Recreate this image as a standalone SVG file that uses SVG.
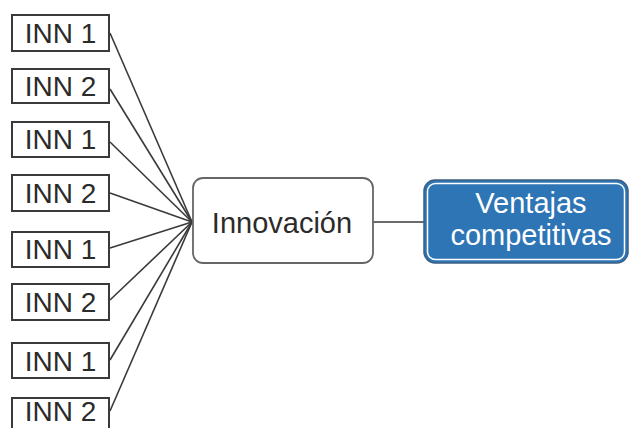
<svg xmlns="http://www.w3.org/2000/svg" width="629" height="428" viewBox="0 0 629 428">
<style>
.inn rect{fill:#fff;stroke:#3a3a3a;stroke-width:2}
.inn text{font-family:"Liberation Sans",Arial,sans-serif;font-size:28px;fill:#2b2b2b;text-anchor:middle}
.conn line{stroke:#3a3a3a;stroke-width:1.6}
</style>
<rect width="629" height="428" fill="#fff"/>
<g id="connectors" class="conn">
<line x1="110" y1="33" x2="192" y2="222"/>
<line x1="110" y1="89" x2="192" y2="222"/>
<line x1="110" y1="142" x2="192" y2="222"/>
<line x1="110" y1="193" x2="192" y2="222"/>
<line x1="110" y1="248" x2="192" y2="222"/>
<line x1="110" y1="300" x2="192" y2="222"/>
<line x1="110" y1="360" x2="192" y2="222"/>
<line x1="110" y1="411" x2="192" y2="222"/>
<line x1="373" y1="222" x2="424" y2="222"/>
</g>
<g id="inn1a" class="inn"><rect x="12" y="15" width="97" height="36"/><text x="60.5" y="43">INN 1</text></g>
<g id="inn2a" class="inn"><rect x="12" y="69" width="97" height="34"/><text x="60.5" y="96">INN 2</text></g>
<g id="inn1b" class="inn"><rect x="12" y="122" width="97" height="35"/><text x="60.5" y="149">INN 1</text></g>
<g id="inn2b" class="inn"><rect x="12" y="175" width="97" height="36"/><text x="60.5" y="203">INN 2</text></g>
<g id="inn1c" class="inn"><rect x="12" y="232" width="97" height="35"/><text x="60.5" y="259">INN 1</text></g>
<g id="inn2c" class="inn"><rect x="12" y="284" width="97" height="36"/><text x="60.5" y="312">INN 2</text></g>
<g id="inn1d" class="inn"><rect x="12" y="343" width="97" height="35"/><text x="60.5" y="371">INN 1</text></g>
<g id="inn2d" class="inn"><rect x="12" y="398" width="97" height="36"/><text x="60.5" y="421">INN 2</text></g>
<g id="innovacion">
<rect x="193" y="178" width="180" height="85" rx="10" fill="#fff" stroke="#666" stroke-width="1.8"/>
<text x="282" y="233" font-family="Liberation Sans,Arial,sans-serif" font-size="29" fill="#2b2b2b" text-anchor="middle">Innovación</text>
</g>
<g id="ventajas">
<rect x="424" y="180" width="204" height="83" rx="11" fill="#2e75b6" stroke="#3d5f80" stroke-width="1.5"/>
<rect x="427.5" y="183.5" width="197" height="76" rx="8" fill="none" stroke="#fff" stroke-width="1.5"/>
<text font-family="Liberation Sans,Arial,sans-serif" font-size="29" fill="#fff" text-anchor="middle"><tspan x="531" y="213">Ventajas</tspan><tspan x="531" y="245">competitivas</tspan></text>
</g>
</svg>
